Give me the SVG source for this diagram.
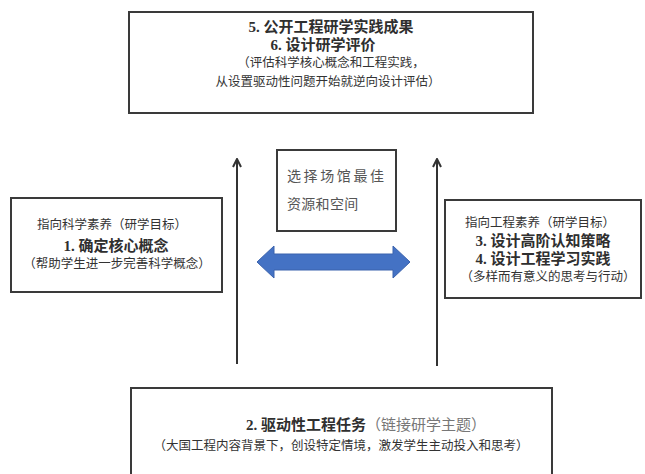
<svg xmlns="http://www.w3.org/2000/svg" width="645" height="474" viewBox="0 0 645 474">
<defs>
<style>
.box{fill:#fff;stroke:#3a3a3a;stroke-width:2}
.t{font-family:"Liberation Serif","Noto Sans CJK SC",serif;fill:#333;text-anchor:middle}
.b{font-weight:600;font-size:15px;fill:#2f2f2f}
.n{font-size:12.5px;font-family:"Noto Sans CJK SC",sans-serif}
.g{fill:#777;font-weight:normal}
.ln{stroke:#333;stroke-width:2;fill:none}
</style>
<marker id="ah" viewBox="0 0 10 10" refX="9" refY="5" markerWidth="5" markerHeight="5" orient="auto" markerUnits="strokeWidth">
<path d="M1,1 L9,5 L1,9" fill="none" stroke="#333" stroke-width="2"/>
</marker>
</defs>
<rect width="645" height="474" fill="#fff"/>
<g id="connectors">
<line class="ln" x1="237" y1="364" x2="237" y2="159" marker-end="url(#ah)"/>
<line class="ln" x1="437" y1="366" x2="437" y2="159" marker-end="url(#ah)"/>
<polygon points="257,262 274,246 274,254 393,254 393,246 410,262 393,278 393,270 274,270 274,278" fill="#4472c4" stroke="#3a62ad" stroke-width="1"/>
</g>
<g id="top">
<rect class="box" x="129" y="12" width="404" height="101"/>
<text class="t b" x="331" y="32">5. 公开工程研学实践成果</text>
<text class="t b" x="323" y="50">6. 设计研学评价</text>
<text class="t n" x="331" y="67">（评估科学核心概念和工程实践，</text>
<text class="t n" x="328" y="86">从设置驱动性问题开始就逆向设计评估）</text>
</g>
<g id="middle">
<rect class="box" x="277" y="150" width="119" height="81"/>
<text class="t" x="287" y="181" style="text-anchor:start;font-size:14px;fill:#555;letter-spacing:2.6px">选择场馆最佳</text>
<text class="t" x="287" y="209" style="text-anchor:start;font-size:14px;fill:#555;letter-spacing:0.3px">资源和空间</text>
</g>
<g id="left">
<rect class="box" x="11" y="198" width="211" height="94"/>
<text class="t n" x="112" y="229">指向科学素养（研学目标）</text>
<text class="t b" x="116" y="251">1. 确定核心概念</text>
<text class="t n" x="117" y="268">（帮助学生进一步完善科学概念）</text>
</g>
<g id="right">
<rect class="box" x="445" y="200" width="196" height="98"/>
<text class="t n" x="540" y="227">指向工程素养（研学目标）</text>
<text class="t b" x="543" y="246">3. 设计高阶认知策略</text>
<text class="t b" x="543" y="264">4. 设计工程学习实践</text>
<text class="t n" x="548" y="281">（多样而有意义的思考与行动）</text>
</g>
<g id="bottom">
<rect class="box" x="131" y="388" width="421" height="100"/>
<text class="t b" x="366" y="430">2. 驱动性工程任务<tspan class="g">（链接研学主题）</tspan></text>
<text class="t n" x="341" y="450">（大国工程内容背景下，创设特定情境，激发学生主动投入和思考）</text>
</g>
</svg>
